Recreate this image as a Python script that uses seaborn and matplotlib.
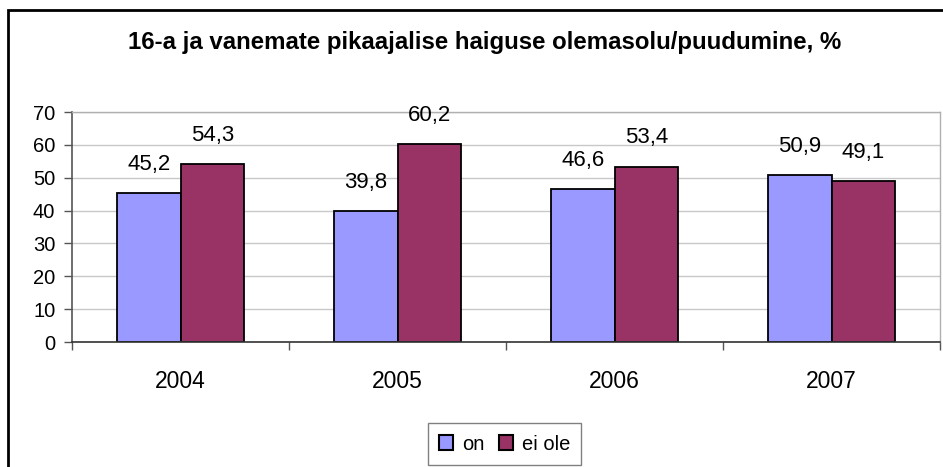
import matplotlib
matplotlib.use("Agg")
import matplotlib.pyplot as plt
import seaborn as sns
import pandas as pd
from matplotlib.patches import Rectangle

years = ["2004", "2005", "2006", "2007"]
on_vals = [45.2, 39.8, 46.6, 50.9]
eiole_vals = [54.3, 60.2, 53.4, 49.1]
series_names = ["on", "ei ole"]
title = "16-a ja vanemate pikaajalise haiguse olemasolu/puudumine, %"

df = pd.DataFrame({
    "year": years * 2,
    "value": on_vals + eiole_vals,
    "series": [series_names[0]] * 4 + [series_names[1]] * 4,
})

sns.set_theme(style="white")
plt.rcParams["font.family"] = ["Liberation Sans", "DejaVu Sans"]
plt.rcParams["text.color"] = "black"
plt.rcParams["xtick.labelcolor"] = "black"
plt.rcParams["ytick.labelcolor"] = "black"

fig = plt.figure(figsize=(9.43, 4.67), dpi=100)
W, H = 943, 467
ax = fig.add_axes([72 / W, 1 - 342 / H, (940 - 72) / W, (342 - 112) / H])

palette = {"on": "#9999FF", "ei ole": "#993366"}
sns.barplot(data=df, x="year", y="value", hue="series", palette=palette,
            ax=ax, width=0.585, edgecolor="black", linewidth=1.3,
            saturation=1, legend=True)

ax.set_ylim(0, 70)
ax.set_yticks(range(0, 71, 10))
ax.set_xlim(-0.5, 3.5)
ax.yaxis.grid(True, color="#C8C8C8", linewidth=1)
ax.set_axisbelow(True)
ax.set_xlabel("")
ax.set_ylabel("")

for s in ["top", "right"]:
    ax.spines[s].set_color("#B0B0B0")
    ax.spines[s].set_linewidth(1)
ax.spines["left"].set_color("#555555")
ax.spines["bottom"].set_color("#333333")
ax.spines["left"].set_linewidth(1.2)
ax.spines["bottom"].set_linewidth(1.2)

ax.tick_params(axis="y", which="major", left=True, length=6, width=1,
               color="#555555", labelsize=14.5, pad=6, labelcolor="black")
ax.tick_params(axis="x", which="major", bottom=False, labelsize=16.5, pad=14,
               labelcolor="black")
ax.set_xticks([-0.5, 0.5, 1.5, 2.5, 3.5], minor=True)
ax.tick_params(axis="x", which="minor", bottom=True, length=6, width=1,
               color="#555555", direction="out")

for cont in ax.containers:
    labels = [f"{v:.1f}".replace(".", ",") for v in cont.datavalues]
    ax.bar_label(cont, labels=labels, padding=13, fontsize=16, color="black")

leg = ax.legend(loc="center", bbox_to_anchor=(504.5 / W, 1 - 444 / H),
                bbox_transform=fig.transFigure, ncol=2,
                frameon=True, fontsize=14.5, handlelength=0.7, handleheight=0.7,
                handletextpad=0.45, columnspacing=0.7, borderpad=0.55,
                fancybox=False)
leg.get_frame().set_edgecolor("#606060")
leg.get_frame().set_linewidth(1)
for t in leg.get_texts():
    t.set_color("black")
for h in leg.legend_handles:
    h.set_edgecolor("black")
    h.set_linewidth(1.5)

fig.text(484.5 / W, 1 - 43 / H, title, ha="center", va="center",
         fontsize=17.3, fontweight="bold", color="black")

# outer chart border
fig.patches.append(Rectangle((8 / W, -0.05), 1.2, 1 - 10 / H + 0.05,
                             transform=fig.transFigure, fill=False,
                             edgecolor="black", linewidth=2, zorder=10))

fig.savefig("out.png", dpi=100)
